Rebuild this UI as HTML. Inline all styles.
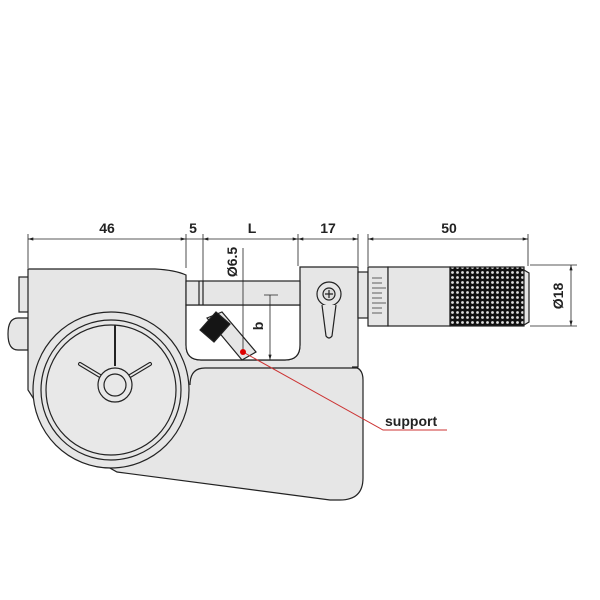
<!DOCTYPE html>
<html><head><style>
body{margin:0;background:#fff;}
svg{display:block;font-family:"Liberation Sans",sans-serif;}
</style></head><body>
<svg width="600" height="600" viewBox="0 0 600 600" xmlns="http://www.w3.org/2000/svg">
<defs>
<pattern id="kn" width="5" height="5" patternUnits="userSpaceOnUse">
<rect width="5" height="5" fill="#111"/>
<circle cx="2.5" cy="2.5" r="1.4" fill="#ddd"/>
</pattern>
<marker id="ar" viewBox="0 0 10 6" refX="10" refY="3" markerWidth="8" markerHeight="4" orient="auto-start-reverse">
<path d="M0 0 L10 3 L0 6 Z" fill="#222"/>
</marker>
</defs>
<g stroke="#222" stroke-width="1.2" fill="#e6e6e6">
<rect x="19" y="277" width="10" height="35"/>
<path d="M28 318 L18 318 Q8 318 8 334 Q8 350 18 350 L28 350 Z"/>
<path d="M28 269 L155 269 Q175 270 186 275 L186 345 Q186 360 201 360 L285 360 Q300 360 300 345 L300 267 L358 267 L358 367 L352 367 Q363 367 363 380 L363 478 Q363 500 340 500 L330 500 L117 472 L60 440 L28 390 Z"/>
<path d="M190 385 Q190 368 205 368 L358 368" fill="none"/>
<circle cx="111" cy="390" r="78"/>
<circle cx="111" cy="390" r="70" fill="none"/>
<circle cx="111" cy="390" r="65" fill="#e8e8e8"/>
<line x1="115" y1="325" x2="115" y2="366" stroke-width="2"/>
<path d="M80 364 L100 376 M150 364 L130 376" stroke-width="4" stroke-linecap="round"/>
<path d="M80 364 L100 376 M150 364 L130 376" stroke="#e8e8e8" stroke-width="1.8" stroke-linecap="round"/>
<circle cx="115" cy="385" r="17" fill="#e8e8e8"/>
<circle cx="115" cy="385" r="11" fill="#e8e8e8"/>
<path d="M186 305 L300 305 L300 345 Q300 360 285 360 L201 360 Q186 360 186 345 Z" fill="#fff"/>
<rect x="186" y="281" width="114" height="24"/>
<line x1="199" y1="281" x2="199" y2="305"/>
<line x1="203" y1="281" x2="203" y2="305"/>
<path d="M207 318 L222 312 L256 352 L242 360 Z"/>
<path d="M200 330 L216 312 L230 324 L214 342 Z" fill="#151515"/>
<circle cx="329" cy="294" r="12"/>
<circle cx="329" cy="294" r="6" fill="#ddd"/>
<path d="M325 294 h8 M329 290 v8"/>
<path d="M322 305 L326 336 Q329 340 332 336 L336 305" />
<rect x="358" y="272" width="10" height="46"/>
<rect x="368" y="267" width="20" height="59"/>
<rect x="388" y="267" width="62" height="59"/>
<rect x="450" y="267" width="74" height="59" fill="url(#kn)"/>
<path d="M524 270 L529 273 L529 322 L524 325 Z"/>
</g>
<g stroke="#333" stroke-width="0.8">
<path d="M372 278 h10 M372 283 h10 M372 288 h14 M372 293 h10 M372 298 h10 M372 303 h14 M372 308 h10 M372 313 h10"/>
</g>
<g stroke="#222" stroke-width="0.8" fill="none">
<path d="M28 239 H186" marker-start="url(#ar)" marker-end="url(#ar)"/>
<path d="M186 239 H203"/>
<path d="M203 239 H298" marker-start="url(#ar)" marker-end="url(#ar)"/>
<path d="M298 239 H358" marker-start="url(#ar)" marker-end="url(#ar)"/>
<path d="M368 239 H528" marker-start="url(#ar)" marker-end="url(#ar)"/>
<path d="M571 265 V326" marker-start="url(#ar)" marker-end="url(#ar)"/>
<path d="M270 295 V360" marker-end="url(#ar)"/>
<path d="M28 234 V268 M186 234 V268 M203 234 V282 M298 234 V266 M358 234 V266 M368 234 V266 M528 234 V266"/>
<path d="M530 265 H577 M530 326 H577"/>
<path d="M243 248 V352 M264 295 H278"/>
</g>
<g fill="#222" font-size="14" font-weight="bold" text-anchor="middle">
<text x="107" y="233">46</text>
<text x="193" y="233">5</text>
<text x="252" y="233">L</text>
<text x="328" y="233">17</text>
<text x="449" y="233">50</text>
<text transform="translate(563,296) rotate(-90)">Ø18</text>
<text transform="translate(237,262) rotate(-90)">Ø6.5</text>
<text transform="translate(263,326) rotate(-90)">b</text>
</g>
<path d="M243 352 L383 430 H447" stroke="#c33" stroke-width="1" fill="none"/>
<circle cx="243" cy="352" r="3" fill="#d00"/>
<text x="385" y="426" font-size="14" font-weight="bold" fill="#222">support</text>
</svg>
</body></html>
